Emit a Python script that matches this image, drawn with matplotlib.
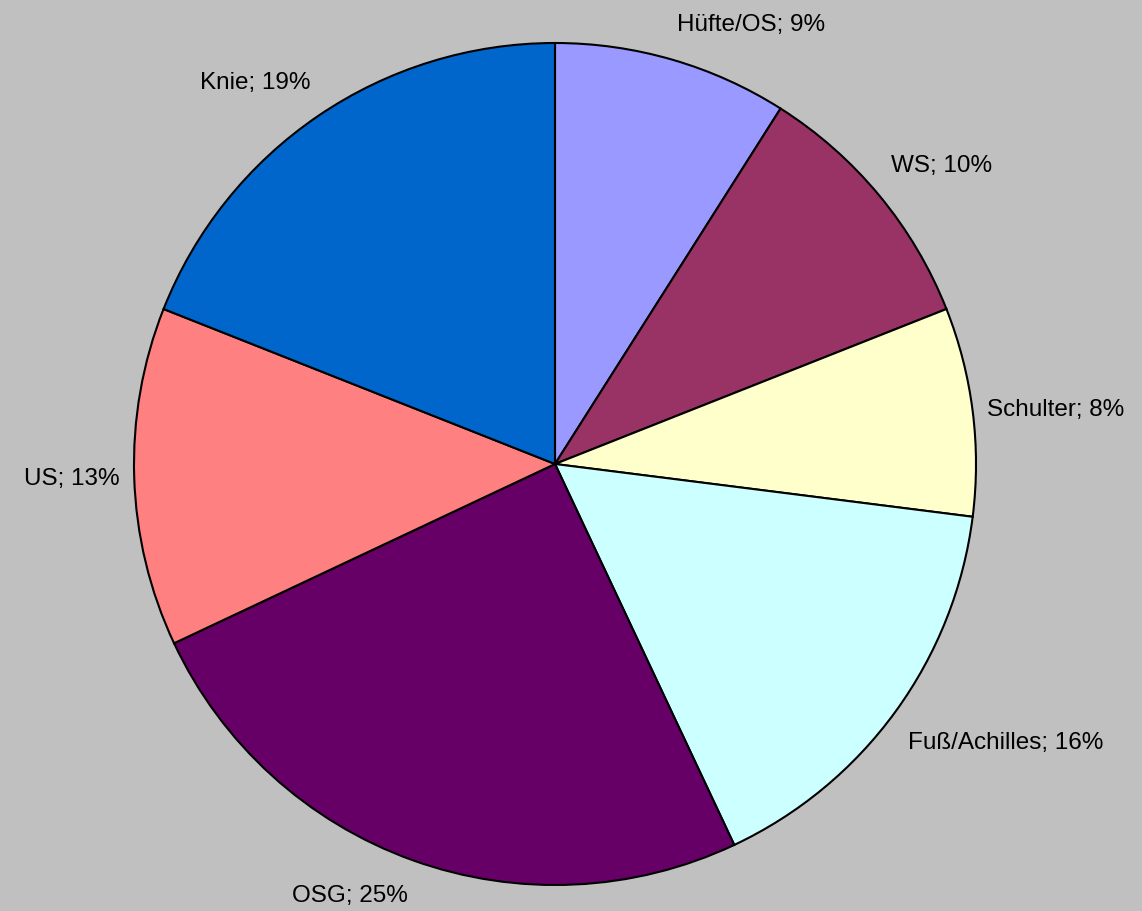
import matplotlib
matplotlib.use("Agg")
import matplotlib.pyplot as plt

labels = ["Hüfte/OS", "WS", "Schulter", "Fuß/Achilles", "OSG", "US", "Knie"]
shares = [9, 10, 8, 16, 25, 13, 19]
colors = ["#9999FF", "#993366", "#FFFFCC", "#CCFFFF", "#660066", "#FF8080", "#0066CC"]

W, H = 1142, 912
cx, cy, r = 555, 465, 421

plt.rcParams["font.family"] = ["Liberation Sans", "DejaVu Sans"]

fig = plt.figure(figsize=(W / 100, H / 100), dpi=100, facecolor="#C0C0C0")
ax = fig.add_axes([(cx - r) / W, (H - cy - r) / H, 2 * r / W, 2 * r / H])
ax.set_facecolor("#C0C0C0")

texts = [f"{l}; {v}%" for l, v in zip(labels, shares)]
wedges, label_texts = ax.pie(
    shares,
    labels=texts,
    colors=colors,
    startangle=90,
    counterclock=False,
    radius=1,
    labeldistance=1.035,
    wedgeprops=dict(edgecolor="black", linewidth=1.5),
    textprops=dict(fontsize=17.5, color="black"),
)

# Excel-style: push the label box away from the pie edge
for t in label_texts:
    x, y = t.get_position()
    if y > 0.3:
        t.set_va("bottom")
        t.set_y(y + 0.025)
    elif y < -0.3:
        t.set_va("top")
        t.set_y(y - 0.025)
    else:
        t.set_va("center")
    t.set_clip_on(False)

ax.set_xlim(-1, 1)
ax.set_ylim(-1, 1)
ax.set_aspect("equal")
ax.axis("off")

fig.savefig("out.png", dpi=100, facecolor=fig.get_facecolor())
